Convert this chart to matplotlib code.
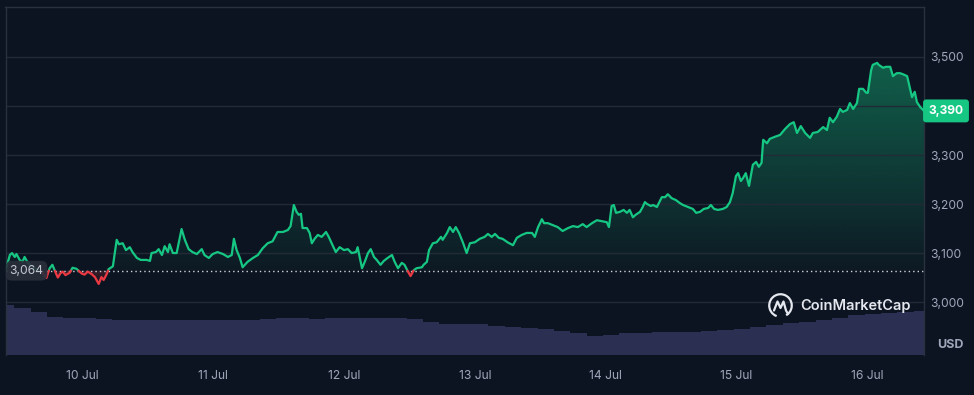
import numpy as np
import matplotlib
matplotlib.use('Agg')
import matplotlib.pyplot as plt
from matplotlib.path import Path
from matplotlib.patches import PathPatch, Arc
import matplotlib.transforms as mtrans
from matplotlib.colors import to_rgb

plt.rcParams['font.family'] = ['Inter', 'DejaVu Sans']

BG = '#0d1421'
GREEN = '#16c784'
RED = '#ea3943'
GRID = '#232a37'
TXT = '#a1a7bb'

# hours since 10 Jul 00:00
hours = [
    -14.1, -13.3, -12.9, -12.4, -12.1, -11.5, -11.0, -10.6, -10.2, -9.7,
    -8.6, -7.5, -6.6, -6.0, -5.5, -4.9, -4.5, -4.0, -3.6, -3.1,
    -2.3, -1.8, -1.1, -0.1, 0.4, 1.0, 1.7, 2.3, 3.0, 3.5,
    3.9, 4.5, 4.8, 5.6, 6.3, 6.7, 7.4, 8.0, 8.7, 9.2,
    10.0, 10.7, 11.8, 12.4, 12.7, 13.5, 14.0, 14.6, 15.1, 15.7,
    16.0, 16.6, 17.3, 18.2, 18.8, 19.5, 20.2, 21.0, 21.9, 22.4,
    23.2, 23.9, 24.8, 25.8, 26.7, 27.4, 27.8, 28.3, 28.9, 29.4,
    30.3, 31.3, 32.2, 33.1, 34.0, 34.9, 35.8, 36.8, 37.7, 38.2,
    38.8, 39.3, 39.7, 40.1, 40.4, 41.2, 41.7, 42.1, 42.6, 43.2,
    43.9, 44.7, 45.2, 45.9, 46.5, 47.2, 48.0, 48.7, 49.4, 50.2,
    50.5, 51.3, 51.8, 52.4, 52.9, 53.5, 54.0, 54.7, 55.3, 56.0,
    56.8, 57.3, 57.9, 58.6, 59.1, 59.5, 60.2, 60.8, 61.3, 62.3,
    62.6, 63.2, 63.6, 64.3, 65.0, 65.8, 66.1, 66.9, 67.4, 68.0,
    68.5, 69.1, 69.8, 70.5, 71.1, 72.0, 72.9, 73.8, 74.4, 75.1,
    75.7, 76.4, 77.1, 78.0, 79.0, 79.7, 80.6, 81.5, 82.5, 83.0,
    83.6, 84.3, 84.7, 85.4, 86.3, 87.2, 88.1, 89.1, 90.0, 90.9,
    91.8, 92.5, 93.5, 94.4, 95.3, 96.2, 96.6, 97.1, 97.5, 97.9,
    98.6, 99.3, 99.9, 100.4, 101.0, 101.5, 102.3, 102.8, 103.2, 103.6,
    104.3, 104.7, 105.4, 106.3, 106.9, 107.4, 108.1, 108.9, 109.6, 110.2,
    111.1, 112.0, 112.6, 113.3, 114.0, 114.8, 115.3, 115.9, 116.6, 117.5,
    118.2, 118.8, 119.3, 119.9, 120.3, 120.8, 121.2, 121.7, 122.3, 123.0,
    123.6, 124.1, 124.6, 124.9, 125.6, 126.1, 127.0, 128.0, 128.9, 129.8,
    130.5, 131.1, 131.8, 132.6, 133.5, 134.0, 134.9, 135.9, 136.6, 137.1,
    137.7, 138.4, 139.0, 139.5, 140.3, 140.8, 141.4, 142.1, 142.5, 143.2,
    143.8, 144.1, 144.7, 145.0, 145.8, 146.1, 146.9, 147.4, 148.2, 148.7,
    149.4, 150.0, 150.5, 151.3, 151.6, 152.2, 152.7, 153.1, 153.7, 154.4,
]
price = [
    3064, 3096, 3100, 3092, 3098, 3086, 3082, 3092, 3084, 3076,
    3068, 3063, 3049, 3069, 3076, 3060, 3050, 3059, 3062, 3055,
    3060, 3070, 3068, 3058, 3056, 3062, 3057, 3051, 3037, 3051,
    3045, 3058, 3067, 3073, 3127, 3118, 3120, 3106, 3112, 3102,
    3090, 3086, 3086, 3084, 3100, 3102, 3108, 3096, 3114, 3102,
    3118, 3100, 3100, 3149, 3127, 3108, 3102, 3098, 3108, 3096,
    3090, 3098, 3102, 3098, 3092, 3096, 3129, 3106, 3090, 3071,
    3082, 3090, 3096, 3110, 3120, 3124, 3143, 3143, 3147, 3155,
    3198, 3184, 3178, 3180, 3151, 3151, 3141, 3120, 3129, 3137,
    3133, 3143, 3133, 3116, 3102, 3112, 3106, 3108, 3100, 3102,
    3112, 3069, 3082, 3100, 3108, 3092, 3086, 3076, 3084, 3090,
    3096, 3082, 3069, 3080, 3076, 3067, 3053, 3065, 3069, 3071,
    3076, 3082, 3106, 3120, 3122, 3133, 3127, 3141, 3153, 3143,
    3153, 3141, 3122, 3100, 3120, 3122, 3129, 3133, 3139, 3133,
    3139, 3131, 3129, 3122, 3116, 3131, 3137, 3141, 3141, 3133,
    3153, 3169, 3161, 3161, 3157, 3153, 3145, 3151, 3155, 3153,
    3159, 3153, 3161, 3167, 3165, 3163, 3153, 3196, 3198, 3182,
    3184, 3188, 3182, 3188, 3173, 3178, 3184, 3194, 3204, 3200,
    3196, 3198, 3194, 3214, 3214, 3220, 3212, 3208, 3202, 3198,
    3194, 3190, 3182, 3184, 3190, 3192, 3198, 3190, 3188, 3190,
    3194, 3204, 3222, 3257, 3263, 3247, 3253, 3263, 3237, 3280,
    3286, 3276, 3284, 3331, 3324, 3333, 3337, 3341, 3353, 3363,
    3367, 3345, 3359, 3345, 3335, 3345, 3347, 3357, 3351, 3376,
    3367, 3378, 3394, 3388, 3392, 3406, 3394, 3406, 3435, 3435,
    3427, 3427, 3473, 3484, 3488, 3484, 3478, 3480, 3480, 3461,
    3467, 3467, 3465, 3461, 3447, 3418, 3429, 3408, 3398, 3390,
]
open_price = 3064
last_price = 3390

vol_hours = [
    -14, -11, -8, -5, -2, 1, 4, 7, 10, 13,
    16, 19, 22, 25, 28, 31, 34, 37, 40, 43,
    46, 49, 52, 55, 58, 61, 64, 67, 70, 73,
    76, 79, 82, 85, 88, 91, 94, 97, 100, 103,
    106, 109, 112, 115, 118, 121, 124, 127, 130, 133,
    136, 139, 142, 145, 148, 151, 154,
]
volume = [
    10.1, 9.4, 8.7, 7.6, 7.5, 7.4, 7.3, 7.1, 7.0, 7.0,
    7.1, 7.0, 7.0, 7.1, 7.0, 7.0, 7.2, 7.4, 7.4, 7.3,
    7.4, 7.5, 7.4, 7.4, 7.4, 7.2, 6.6, 6.3, 6.2, 6.2,
    5.8, 5.6, 5.4, 5.2, 4.8, 4.4, 3.9, 4.1, 4.4, 4.5,
    4.6, 4.6, 4.7, 4.8, 5.0, 5.3, 5.6, 6.0, 6.4, 6.7,
    7.0, 7.5, 8.0, 8.2, 8.4, 8.6, 8.8,
]

day_ticks = [0, 24, 48, 72, 96, 120, 144]
day_labels = ['10 Jul', '11 Jul', '12 Jul', '13 Jul', '14 Jul', '15 Jul', '16 Jul']
price_ticks = [3000, 3100, 3200, 3300, 3400, 3500]
# the 3,400 label is covered by the current-price tag in the reference
price_labels = ['3,000', '3,100', '3,200', '3,300', '', '3,500']

XLIM = (-14.1, 154.4)
YLIM = (2892, 3602)

fig = plt.figure(figsize=(9.74, 3.95), dpi=100, facecolor=BG)
W, H = 974, 395
rect = [5.5 / W, 1 - 355 / H, 918.5 / W, 348 / H]

# volume layer
axv = fig.add_axes(rect)
axv.set_facecolor(BG)
axv.bar(vol_hours, volume, width=3.0, color='#2b3052', edgecolor='none', linewidth=0)
axv.set_xlim(*XLIM)
axv.set_ylim(0, 70)
axv.axis('off')

# price layer
ax = fig.add_axes(rect)
ax.set_facecolor('none')

t = np.array(hours, float)
p = np.array(price, float)
b = float(open_price)

# insert baseline crossings so colours switch exactly at the baseline
tt, pp = [t[0]], [p[0]]
for i in range(1, len(t)):
    if (p[i - 1] - b) * (p[i] - b) < 0:
        f = (b - p[i - 1]) / (p[i] - p[i - 1])
        tt.append(t[i - 1] + f * (t[i] - t[i - 1]))
        pp.append(b)
    tt.append(t[i])
    pp.append(p[i])
tt = np.array(tt)
pp = np.array(pp)

# green gradient fill above baseline
grad = np.zeros((256, 1, 4))
grad[..., :3] = to_rgb(GREEN)
grad[:, 0, 3] = np.linspace(0.03, 0.42, 256)
im = ax.imshow(grad, extent=[tt[0], tt[-1], b, pp.max()], origin='lower',
               aspect='auto', zorder=1, interpolation='bilinear')
verts = list(zip(tt, np.maximum(pp, b))) + [(tt[-1], b), (tt[0], b), (tt[0], b)]
codes = [Path.MOVETO] + [Path.LINETO] * (len(verts) - 2) + [Path.CLOSEPOLY]
clip = PathPatch(Path(verts, codes), transform=ax.transData, facecolor='none', edgecolor='none')
ax.add_patch(clip)
im.set_clip_path(clip)

# red gradient fill below baseline
gr = np.zeros((64, 1, 4))
gr[..., :3] = to_rgb(RED)
gr[:, 0, 3] = np.linspace(0.02, 0.22, 64)
im2 = ax.imshow(gr, extent=[tt[0], tt[-1], pp.min(), b], origin='lower',
                aspect='auto', zorder=1, interpolation='bilinear')
verts2 = list(zip(tt, np.minimum(pp, b))) + [(tt[-1], b), (tt[0], b), (tt[0], b)]
clip2 = PathPatch(Path(verts2, codes), transform=ax.transData, facecolor='none', edgecolor='none')
ax.add_patch(clip2)
im2.set_clip_path(clip2)

# grid
for y in price_ticks:
    ax.axhline(y, color=GRID, lw=1.0, zorder=2)
ax.axhline(b, color='#d0d4dd', lw=1.0, ls=(0, (1, 2.2)), zorder=2.5)

# price line
g = np.where(pp >= b, pp, np.nan)
r = np.where(pp <= b, pp, np.nan)
ax.plot(tt, g, color=GREEN, lw=1.6, zorder=3, solid_joinstyle='round', solid_capstyle='round')
ax.plot(tt, r, color=RED, lw=1.6, zorder=3, solid_joinstyle='round', solid_capstyle='round')

ax.set_xlim(*XLIM)
ax.set_ylim(*YLIM)

# axes styling
for s in ['top', 'left', 'right']:
    ax.spines[s].set_color('#29303e')
    ax.spines[s].set_linewidth(1.0)
ax.spines['bottom'].set_visible(False)

ax.yaxis.tick_right()
ax.set_yticks(price_ticks, price_labels)
ax.set_xticks(day_ticks, day_labels)
ax.tick_params(axis='y', length=0, pad=4.5, labelsize=8.7, labelcolor=TXT)
ax.tick_params(axis='x', length=0, pad=11, labelsize=8.7, labelcolor=TXT)

# price labels
blend = mtrans.blended_transform_factory(ax.transAxes, ax.transData)
ax.text((26.5 - 5.5) / 918.5, open_price, '3,064', transform=blend, ha='center', va='center',
        fontsize=8.7, color='#c5c9d4', zorder=5,
        bbox=dict(boxstyle='round,pad=0.32,rounding_size=0.5', facecolor='#2a2f3c', edgecolor='none', alpha=0.9))
ax.text((946 - 5.5) / 918.5, last_price, '3,390', transform=blend, ha='center', va='center',
        fontsize=8.7, color='white', fontweight='bold', zorder=5, clip_on=False,
        bbox=dict(boxstyle='round,pad=0.45,rounding_size=0.25', facecolor=GREEN, edgecolor='none'))

fig.text(950 / W, 1 - 345 / H, 'USD', ha='center', va='center', fontsize=9,
         fontweight='bold', color=TXT)

# CoinMarketCap watermark
fig.text(800 / W, 1 - 306 / H, 'CoinMarketCap', ha='left', va='center', fontsize=10.5,
         fontweight='semibold', color='#e4e7ee')
axl = fig.add_axes([768 / W, 1 - 318 / H, 25 / W, 25 / H])
axl.set_xlim(0, 1)
axl.set_ylim(0, 1)
axl.axis('off')
axl.add_patch(Arc((0.5, 0.5), 0.9, 0.9, theta1=300, theta2=250, color='#e4e7ee', lw=1.6))
axl.plot([0.24, 0.38, 0.5, 0.62, 0.72, 0.8], [0.3, 0.66, 0.4, 0.66, 0.3, 0.16],
         color='#e4e7ee', lw=1.6, solid_joinstyle='round', solid_capstyle='round')

fig.savefig('out.png', dpi=100, facecolor=BG)
